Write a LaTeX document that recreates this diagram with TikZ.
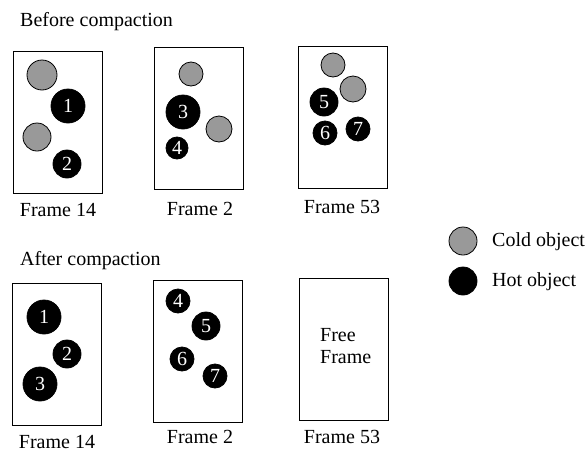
\documentclass[tikz,border=0pt]{standalone}
\usepackage{fontspec}
\setmainfont{Liberation Serif}
\usepackage{xcolor}
\usetikzlibrary{positioning}

\definecolor{coldgray}{HTML}{999999}

\begin{document}
\begin{tikzpicture}[x=1pt,y=-1pt,
  every node/.style={font=\fontsize{20}{22}\selectfont, inner sep=0pt},
  frame/.style={draw, line width=0.8pt, minimum width=89pt, minimum height=142pt},
  hot/.style={circle, draw=black, fill=black, text=white, line width=0.8pt},
  cold/.style={circle, draw=black, fill=coldgray, line width=0.8pt}]
\useasboundingbox (0,0) rectangle (587,453);

\node[anchor=base west] (before) at (20,26) {Before compaction};
\node[anchor=base west] (after) at (20,265) {After compaction};

% before
\node[frame] (ba) at (57.5,122) {};
\node[frame] (bb) at (199,118) {};
\node[frame] (bc) at (342.5,117.5) {};
\node[anchor=base] (bla) at (58,216) {Frame 14};
\node[anchor=base] (blb) at (200,215) {Frame 2};
\node[anchor=base] (blc) at (342,213) {Frame 53};

\node[cold, minimum size=30pt] (c1) at (42,75) {};
\node[hot, minimum size=34pt] (h1) at (68,106) {1};
\node[cold, minimum size=28pt] (c2) at (37,137) {};
\node[hot, minimum size=28pt] (h2) at (67,164) {2};

\node[cold, minimum size=24pt] (c3) at (191,74) {};
\node[hot, minimum size=34pt] (h3) at (183,112) {3};
\node[cold, minimum size=26pt] (c4) at (219,129) {};
\node[hot, minimum size=22pt] (h4) at (177,148) {4};

\node[cold, minimum size=24pt] (c5) at (333,65) {};
\node[cold, minimum size=26pt] (c6) at (353,89) {};
\node[hot, minimum size=28pt] (h5) at (324,102) {5};
\node[hot, minimum size=24pt] (h6) at (325,133) {6};
\node[hot, minimum size=24pt] (h7) at (358,129) {7};

% after
\node[frame] (aa) at (57,354.5) {};
\node[frame] (ab) at (198,351.5) {};
\node[frame] (ac) at (343.5,349) {};
\node[anchor=base] (ala) at (57,448) {Frame 14};
\node[anchor=base] (alb) at (200,443) {Frame 2};
\node[anchor=base] (alc) at (342,443) {Frame 53};

\node[hot, minimum size=34pt] (n1) at (44,317) {1};
\node[hot, minimum size=28pt] (n2) at (67,354) {2};
\node[hot, minimum size=34pt] (n3) at (40,384) {3};

\node[hot, minimum size=24pt] (n4) at (178,301) {4};
\node[hot, minimum size=28pt] (n5) at (206,326) {5};
\node[hot, minimum size=24pt] (n6) at (182,359) {6};
\node[hot, minimum size=24pt] (n7) at (215,376) {7};

\node[align=left, anchor=west] (free) at (320,346) {Free\\Frame};

% legend
\node[cold, minimum size=28pt] (lc) at (463,241) {};
\node[anchor=base west] (lct) at (492,246) {Cold object};
\node[hot, minimum size=28pt] (lh) at (463,281) {};
\node[anchor=base west] (lht) at (492,286) {Hot object};

\end{tikzpicture}
\end{document}
